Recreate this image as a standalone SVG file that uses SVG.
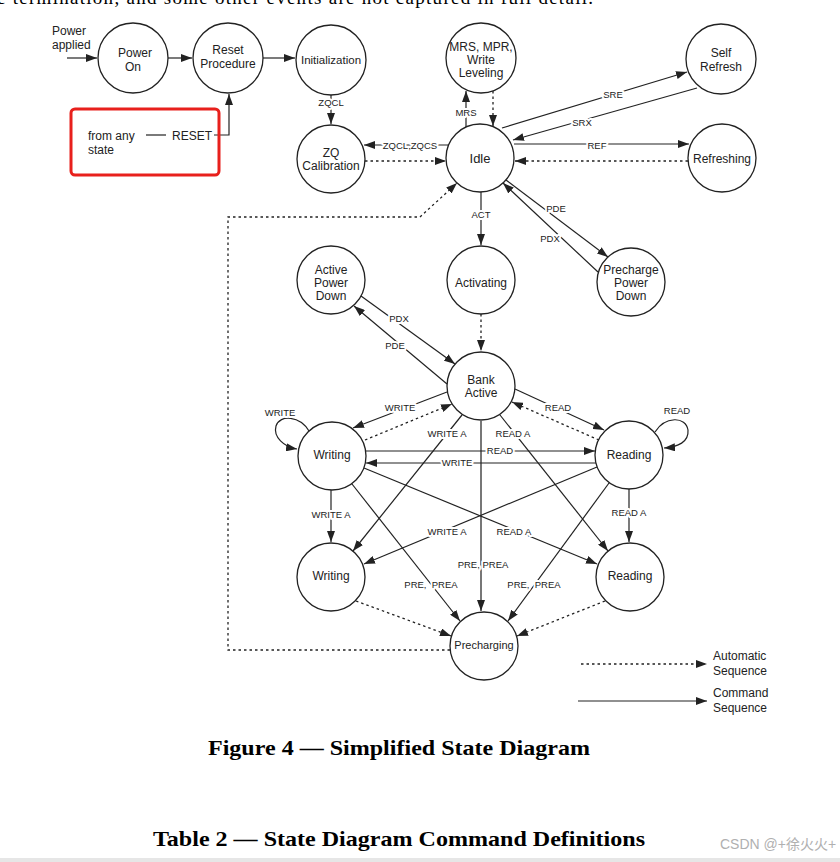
<svg xmlns="http://www.w3.org/2000/svg" width="840" height="862" viewBox="0 0 840 862">
<style>
.n{fill:#fff;stroke:#222;stroke-width:1.3}
.t{font-family:"Liberation Sans",Arial,sans-serif;font-size:12px;fill:#222;text-anchor:middle}
.s{text-anchor:start}
.l{font-family:"Liberation Sans",Arial,sans-serif;font-size:9.5px;fill:#222;text-anchor:middle;stroke:#fff;stroke-width:4;paint-order:stroke;stroke-linejoin:round}
.c{fill:none;stroke:#222;stroke-width:1.2}
.d{fill:none;stroke:#222;stroke-width:1.3;stroke-dasharray:2.5 3}
.a{marker-end:url(#ah)}
.cap{font-family:"Liberation Serif","Times New Roman",serif;font-weight:bold;font-size:22px;fill:#000}
</style>
<defs>
<marker id="ah" markerUnits="userSpaceOnUse" markerWidth="11" markerHeight="8" refX="11" refY="4" orient="auto">
<path d="M0,0 L11,4 L0,8 z" fill="#222"/>
</marker>
</defs>
<rect width="840" height="862" fill="#fff"/>
<text x="-3" y="4" font-family="Liberation Serif,serif" font-size="19" fill="#000" textLength="596">e termination, and some other events are not captured in full detail.</text>

<g id="connectors">
<path class="c a" d="M67,58 L97,58"/>
<path class="c a" d="M168,58 L192,58"/>
<path class="c a" d="M263,58 L295,58"/>
<path class="c a" d="M331,95 L331,124"/>
<path class="c" d="M146,135 L166,135"/>
<path class="c a" d="M214,135 L229,135 L229,94"/>
<path class="c a" d="M449,145 L364,145"/>
<path class="d a" d="M365,161 L446,161"/>
<path class="c a" d="M466,127 L466,91"/>
<path class="d a" d="M493,91 L493,126"/>
<path class="c a" d="M502,128 L687,72"/>
<path class="c a" d="M697,88 L513,140"/>
<path class="c a" d="M514,144 L689,144"/>
<path class="d a" d="M688,161 L515,161"/>
<path class="c a" d="M506,180 L608,257"/>
<path class="c a" d="M598,272 L503,183"/>
<path class="c a" d="M481,192 L481,245"/>
<path class="d a" d="M481,314 L481,351"/>
<path class="c a" d="M361,296 L455,364"/>
<path class="c a" d="M447,384 L354,306"/>
<path class="c a" d="M447,392 L353,428"/>
<path class="d a" d="M365,440 L452,404"/>
<path class="c a" d="M309,431 C300,416 280,414 276,426 C273,437 284,447 297,449"/>
<path class="c a" d="M462,415 L353,551"/>
<path class="c a" d="M500,415 L608,551"/>
<path class="a" d="M481,421 L481,611" fill="none" stroke="#555" stroke-width="1.6"/>
<path class="c a" d="M366,451 L595,451"/>
<path class="c a" d="M596,463 L366,463"/>
<path class="c a" d="M364,468 L597,564"/>
<path class="c a" d="M597,467 L364,564"/>
<path class="c a" d="M331,490 L331,542"/>
<path class="c a" d="M629,489 L629,542"/>
<path class="c a" d="M352,484 L460,621"/>
<path class="c a" d="M609,483 L508,621"/>
<path class="d a" d="M356,601 L451,636"/>
<path class="d a" d="M605,601 L517,636"/>
<path class="c a" d="M515,389 L604,430"/>
<path class="d a" d="M599,440 L512,402"/>
<path class="c a" d="M655,432 C665,416 686,416 688,430 C689,442 678,447 664,448"/>
<path class="d a" d="M450,650 L228,650 L228,217 L420,217 L457,183"/>
<path class="d a" d="M581,664 L707,664"/>
<path class="c a" d="M578,701 L707,701"/>
</g>

<g id="edge-labels">
<text class="l" x="331" y="105.5">ZQCL</text>
<text class="l" x="410" y="148.5">ZQCL,ZQCS</text>
<text class="l" x="466" y="115.5">MRS</text>
<text class="l" x="613" y="97.5">SRE</text>
<text class="l" x="582" y="125.5">SRX</text>
<text class="l" x="597" y="148.5">REF</text>
<text class="l" x="556" y="211.5">PDE</text>
<text class="l" x="550" y="241.5">PDX</text>
<text class="l" x="481" y="217.5">ACT</text>
<text class="l" x="399" y="321.5">PDX</text>
<text class="l" x="395" y="348.5">PDE</text>
<text class="l" x="400" y="410.5">WRITE</text>
<text class="l" x="280" y="415.5">WRITE</text>
<text class="l" x="558" y="410.5">READ</text>
<text class="l" x="677" y="413.5">READ</text>
<text class="l" x="447" y="436.5">WRITE A</text>
<text class="l" x="513" y="436.5">READ A</text>
<text class="l" x="500" y="453.5">READ</text>
<text class="l" x="457" y="465.5">WRITE</text>
<text class="l" x="331" y="517.5">WRITE A</text>
<text class="l" x="629" y="515.5">READ A</text>
<text class="l" x="447" y="534.5">WRITE A</text>
<text class="l" x="514" y="534.5">READ A</text>
<text class="l" x="483" y="567.5">PRE, PREA</text>
<text class="l" x="431" y="587.5" xml:space="preserve">PRE,  PREA</text>
<text class="l" x="534" y="587.5" xml:space="preserve">PRE,  PREA</text>
</g>

<g id="power-applied"><text class="t s" x="52" y="35">Power</text><text class="t s" x="52" y="49">applied</text></g>
<g id="reset-box">
<rect x="71" y="109" width="148" height="66" rx="4" fill="none" stroke="#e8201c" stroke-width="3"/>
<text class="t s" x="88" y="140">from any</text>
<text class="t s" x="88" y="154">state</text>
<text class="t s" x="172" y="140">RESET</text>
</g>
<g id="power-on"><circle class="n" cx="133" cy="58" r="35"/><text class="t" x="135" y="57">Power</text><text class="t" x="133" y="71">On</text></g>
<g id="reset-procedure"><circle class="n" cx="228" cy="58" r="35"/><text class="t" x="228" y="54">Reset</text><text class="t" x="228" y="68">Procedure</text></g>
<g id="initialization"><circle class="n" cx="331" cy="60" r="35"/><text class="t" x="331" y="64" style="font-size:11.5px">Initialization</text></g>
<g id="zq-calibration"><circle class="n" cx="331" cy="159" r="34"/><text class="t" x="331" y="157">ZQ</text><text class="t" x="331" y="170">Calibration</text></g>
<g id="mrs"><circle class="n" cx="481" cy="58" r="35"/><text class="t" x="481" y="51">MRS, MPR,</text><text class="t" x="481" y="64">Write</text><text class="t" x="481" y="77">Leveling</text></g>
<g id="idle"><circle class="n" cx="480" cy="158" r="34"/><text class="t" x="480" y="163" style="font-size:13px">Idle</text></g>
<g id="self-refresh"><circle class="n" cx="721" cy="59" r="35"/><text class="t" x="721" y="57">Self</text><text class="t" x="721" y="71">Refresh</text></g>
<g id="refreshing"><circle class="n" cx="722" cy="158" r="34"/><text class="t" x="722" y="163">Refreshing</text></g>
<g id="active-power-down"><circle class="n" cx="331" cy="280" r="34"/><text class="t" x="331" y="274">Active</text><text class="t" x="331" y="287">Power</text><text class="t" x="331" y="300">Down</text></g>
<g id="activating"><circle class="n" cx="481" cy="280" r="34"/><text class="t" x="481" y="287">Activating</text></g>
<g id="precharge-power-down"><circle class="n" cx="631" cy="282" r="34"/><text class="t" x="631" y="274">Precharge</text><text class="t" x="631" y="287">Power</text><text class="t" x="631" y="300">Down</text></g>
<g id="bank-active"><circle class="n" cx="481" cy="386" r="34"/><text class="t" x="481" y="384">Bank</text><text class="t" x="481" y="397">Active</text></g>
<g id="writing-1"><circle class="n" cx="332" cy="456" r="34"/><text class="t" x="332" y="459">Writing</text></g>
<g id="writing-2"><circle class="n" cx="331" cy="577" r="34"/><text class="t" x="331" y="580">Writing</text></g>
<g id="reading-1"><circle class="n" cx="629" cy="455" r="34"/><text class="t" x="629" y="459">Reading</text></g>
<g id="reading-2"><circle class="n" cx="630" cy="577" r="34"/><text class="t" x="630" y="580">Reading</text></g>
<g id="precharging"><circle class="n" cx="484" cy="646" r="34"/><text class="t" x="484" y="649" style="font-size:11px">Precharging</text></g>

<g id="legend">
<text class="t s" x="713" y="660">Automatic</text>
<text class="t s" x="713" y="675">Sequence</text>
<text class="t s" x="713" y="697">Command</text>
<text class="t s" x="713" y="712">Sequence</text>
</g>

<text class="cap" x="208" y="755" textLength="382" lengthAdjust="spacingAndGlyphs">Figure 4 — Simplified State Diagram</text>
<text class="cap" x="153" y="846" textLength="492" lengthAdjust="spacingAndGlyphs">Table 2 — State Diagram Command Definitions</text>
<text x="720" y="849" font-family="Liberation Sans,'Noto Sans CJK SC',sans-serif" font-size="14" fill="#b0b0b0">CSDN @+徐火火+</text>
<rect x="0" y="858" width="840" height="4" fill="#e6e6e6"/>
</svg>
